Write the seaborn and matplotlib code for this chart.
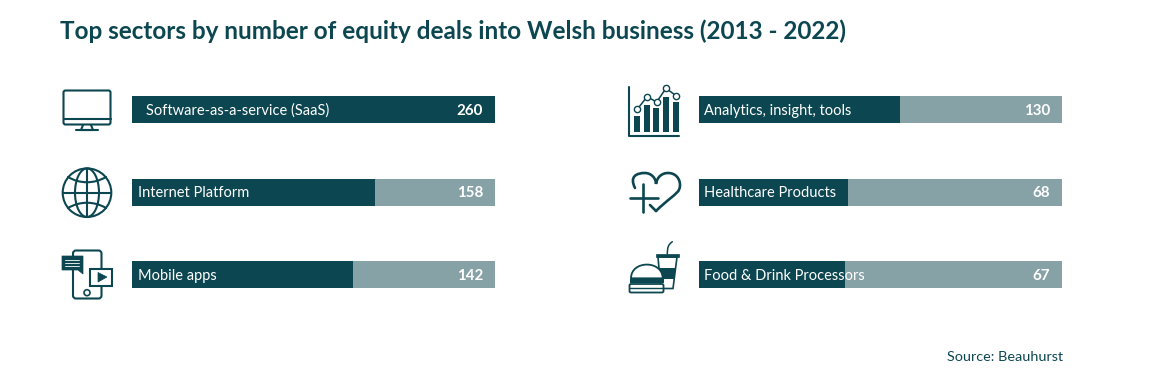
import numpy as np
import pandas as pd
import seaborn as sns
import matplotlib.pyplot as plt
from matplotlib.patches import Rectangle, FancyBboxPatch, Circle, Ellipse, Polygon, PathPatch
from matplotlib.path import Path

left_sectors = ["Software-as-a-service (SaaS)", "Internet Platform", "Mobile apps"]
left_counts = [260, 158, 142]
left_fill = [100, 66.9, 60.9]

right_sectors = ["Analytics, insight, tools", "Healthcare Products", "Food & Drink Processors"]
right_counts = [130, 68, 67]
right_fill = [55.4, 41.0, 40.2]

DARK = "#0c4650"
LIGHT = "#87a2a7"
W, H = 1150, 383

sns.set_theme(style="white")
plt.rcParams["font.family"] = ["Lato", "DejaVu Sans"]

fig = plt.figure(figsize=(W / 100, H / 100), dpi=100, facecolor="white")


def add_panel(x0, sectors, counts, fill, pads):
    # panel spans 363px, rows are 82.5px apart
    ax = fig.add_axes([x0 / W, 1 - 316 / H, 363 / W, 247.5 / H])
    df = pd.DataFrame({"sector": sectors, "track": [100] * len(sectors), "fill": fill})
    sns.barplot(data=df, x="track", y="sector", color=LIGHT, saturation=1, width=0.327, linewidth=0, ax=ax)
    sns.barplot(data=df, x="fill", y="sector", color=DARK, saturation=1, width=0.327, linewidth=0, ax=ax)
    ax.set_xlim(0, 100)
    ax.set_ylim(2.5, -0.5)
    ax.axis("off")
    for i, (name, n) in enumerate(zip(sectors, counts)):
        ax.annotate(name, (0, i), xytext=(pads[i], -1), textcoords="offset pixels",
                    color="white", fontsize=10.5, va="center", ha="left")
        ax.annotate(str(n), (100, i), xytext=(-12, -1), textcoords="offset pixels",
                    color="white", fontsize=10.9, fontweight="bold", va="center", ha="right")


add_panel(132, left_sectors, left_counts, left_fill, [14, 6, 6])
add_panel(699, right_sectors, right_counts, right_fill, [5, 5, 5])

# overlay in pixel coordinates for the icons and free text
ov = fig.add_axes([0, 0, 1, 1], zorder=5)
ov.set_xlim(0, W)
ov.set_ylim(H, 0)
ov.axis("off")
ov.patch.set_alpha(0)

lw = 1.5
line = dict(color=DARK, lw=lw, solid_capstyle="round", solid_joinstyle="round")


def curve(pts, **kw):
    codes = [Path.MOVETO] + [Path.CURVE4] * (len(pts) - 1)
    ov.add_patch(PathPatch(Path(pts, codes), fill=False, edgecolor=DARK, lw=kw.get("lw", lw), capstyle="round"))


# monitor
ov.add_patch(FancyBboxPatch((63.5, 90.5), 47, 34, boxstyle="round,pad=0,rounding_size=2", fill=False, ec=DARK, lw=lw))
ov.plot([63.5, 110.5], [118.5, 118.5], **line)
ov.plot([83, 81, 93, 91], [125, 130, 130, 125], **line)
ov.plot([76, 98], [130, 130], **line)

# globe
ov.add_patch(Circle((87, 192.7), 24.3, fill=False, ec=DARK, lw=lw))
ov.add_patch(Ellipse((87, 192.7), 24, 48.6, fill=False, ec=DARK, lw=lw))
ov.plot([87, 87], [168.5, 217], **line)
ov.plot([63, 111], [192.7, 192.7], **line)
curve([(68, 177), (80, 184), (94, 184), (106, 177)])
curve([(68, 208), (80, 201), (94, 201), (106, 208)])

# phone, chat bubble, video
ov.add_patch(FancyBboxPatch((73, 250.5), 28.5, 48, boxstyle="round,pad=0,rounding_size=3", fill=False, ec=DARK, lw=lw))
ov.add_patch(Circle((87, 292.7), 3, fill=False, ec=DARK, lw=1.2))
ov.add_patch(Polygon([(62, 256), (83, 256), (83, 274), (78, 270), (62, 270)], fc=DARK, ec=DARK, lw=0.5))
for y in [260, 263, 266]:
    ov.plot([65, 79], [y, y], color="white", lw=0.6)
ov.add_patch(Rectangle((90, 268.5), 21.5, 17.5, fc="white", ec=DARK, lw=lw, zorder=3))
ov.add_patch(Polygon([(98, 272.5), (98, 282), (107, 277)], fc=DARK, ec=DARK, lw=0.5, zorder=4))

# analytics
ov.plot([629, 629, 679], [87, 136, 136], **line)
for bx, top in zip([634, 643.7, 653.3, 663.3, 673.3], [115.7, 105, 108.3, 96.7, 102.3]):
    ov.add_patch(Rectangle((bx, top), 6, 131.7 - top, fc=DARK, ec="none"))
tx = [637.3, 647, 656.7, 666, 676]
ty = [109.3, 96.7, 102, 88.3, 95.7]
ov.plot(tx, ty, color=DARK, lw=1.1, marker="o", ms=4.5, mfc="white", mec=DARK, mew=1.0, zorder=4)

# heart with plus and check
ov.plot([629.5, 657.5], [197.7, 197.7], color=DARK, lw=1.9, solid_capstyle="round")
ov.plot([643.3, 643.3], [184, 211.5], color=DARK, lw=1.9, solid_capstyle="round")
curve([(635, 188), (629, 176), (637, 173), (645, 173), (651, 173), (656, 178), (656, 184),
       (657, 177), (662, 173), (668, 173), (676, 173), (680, 179), (680, 185),
       (680, 192), (675, 194), (672, 197), (667, 201), (661, 206), (656, 211)], lw=1.9)
ov.plot([650, 656], [205, 211], color=DARK, lw=1.9, solid_capstyle="round")

# drink
ov.add_patch(Polygon([(658, 257), (677, 257), (673, 288.5), (660.7, 288.5)], fc="white", ec=DARK, lw=1.2, zorder=2))
ov.add_patch(Polygon([(659.3, 268), (675.6, 268), (674.2, 279), (660.6, 279)], fc=DARK, ec="none", zorder=2))
ov.add_patch(Rectangle((656, 254), 23.3, 3.2, fc=DARK, ec=DARK, lw=0.5, zorder=2))
curve([(667.3, 254), (667.5, 247), (668, 245), (672.3, 241.7)], lw=1.1)

# burger sits on top of the cup
dome = Path([(631, 278.3), (631, 260), (662.7, 260), (662.7, 278.3), (631, 278.3)],
            [Path.MOVETO, Path.CURVE4, Path.CURVE4, Path.CURVE4, Path.CLOSEPOLY])
ov.add_patch(PathPatch(dome, fc="white", ec=DARK, lw=1.3, zorder=3))
ov.add_patch(Rectangle((630, 279), 33.5, 3.7, fc=DARK, ec="none", zorder=3))
ov.add_patch(FancyBboxPatch((629.5, 284), 34, 8.5, boxstyle="round,pad=0,rounding_size=1.5", fc="white", ec=DARK, lw=1.3, zorder=3))
ov.plot([630, 663], [288, 288], color=DARK, lw=1.0, zorder=4)

ov.text(60, 31, "Top sectors by number of equity deals into Welsh business (2013 - 2022)",
        color=DARK, fontsize=17.45, fontweight="bold", va="center", ha="left")
ov.text(1063, 357, "Source: Beauhurst", color=DARK, fontsize=10.4, va="center", ha="right")

fig.savefig("out.png", dpi=100)
